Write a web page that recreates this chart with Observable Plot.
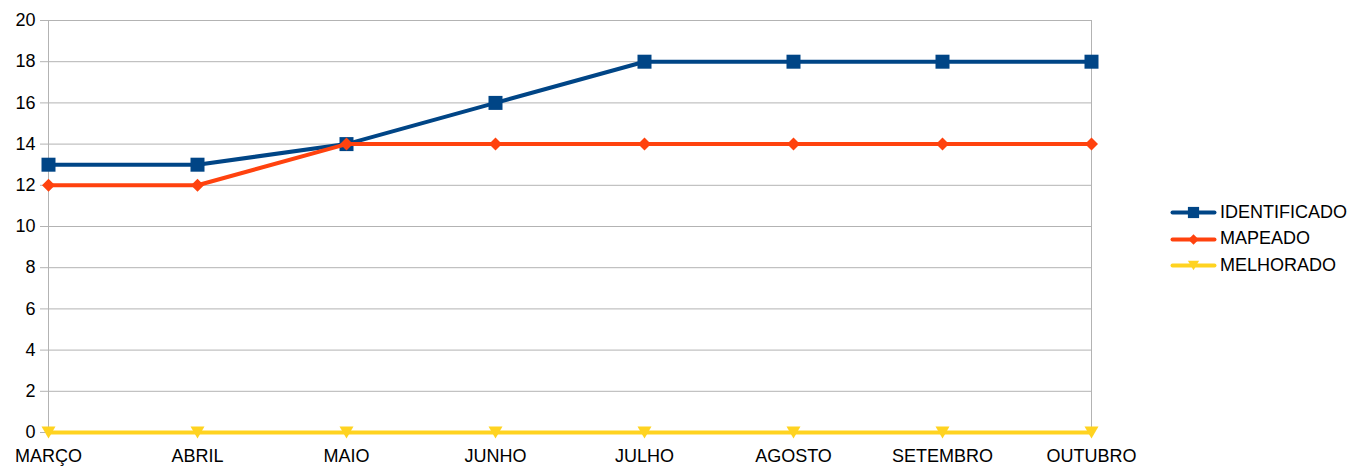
<!DOCTYPE html>
<html>
<head>
<meta charset="utf-8">
<script src="https://cdn.jsdelivr.net/npm/d3@7"></script>
<script src="https://cdn.jsdelivr.net/npm/@observablehq/plot@0.6"></script>
<style>
  html, body { margin: 0; padding: 0; background: #fff; }
  #wrap { position: relative; width: 1355px; height: 467px; font-family: "Liberation Sans", Arial, sans-serif; }
  #legend { position: absolute; left: 1172px; top: 199px; font-size: 18px; color: #000; }
  #legend .row { display: flex; align-items: center; height: 26.5px; }
  #legend svg { margin-right: 6px; }
</style>
</head>
<body>
<div id="wrap"></div>
<script>
const months = ["MARÇO","ABRIL","MAIO","JUNHO","JULHO","AGOSTO","SETEMBRO","OUTUBRO"];
const identificado = [13,13,14,16,18,18,18,18];
const mapeado = [12,12,14,14,14,14,14,14];
const melhorado = [0,0,0,0,0,0,0,0];
const seriesNames = ["IDENTIFICADO","MAPEADO","MELHORADO"];
const seriesColors = ["#004586","#ff420e","#ffd320"];
const yTicks = [0,2,4,6,8,10,12,14,16,18,20];

const squareSym = { draw(ctx, size) { const h = Math.sqrt(size) / 2; ctx.rect(-h, -h, 2*h, 2*h); } };
const diamondSym = { draw(ctx, size) { const h = Math.sqrt(size) / 2; ctx.moveTo(0,-h); ctx.lineTo(h,0); ctx.lineTo(0,h); ctx.lineTo(-h,0); ctx.closePath(); } };
const invTriSym = { draw(ctx, size) { const w = Math.sqrt(size) / 2; const h = w * 0.85; ctx.moveTo(-w,-h); ctx.lineTo(w,-h); ctx.lineTo(0,h); ctx.closePath(); } };
const symbols = [squareSym, diamondSym, invTriSym];
const radii = [14/Math.sqrt(Math.PI), 13/Math.sqrt(Math.PI), 14/Math.sqrt(Math.PI)];

const values = [identificado, mapeado, melhorado];
const tables = values.map(v => months.map((m, i) => ({month: m, value: v[i]})));

const marks = [
  Plot.ruleY(yTicks, {stroke: "#b3b3b3", strokeWidth: 1, strokeOpacity: 1}),
  Plot.ruleX([months[0], months[months.length - 1]], {stroke: "#b3b3b3", strokeWidth: 1, strokeOpacity: 1}),
  Plot.axisY({ticks: yTicks, tickSize: 7, tickPadding: 5, stroke: "#b3b3b3", fontSize: 18, fill: "#000", label: null}),
  Plot.axisX({tickSize: 0, tickPadding: 17, fontSize: 18, fill: "#000", label: null})
];
tables.forEach((t, k) => {
  marks.push(Plot.line(t, {x: "month", y: "value", stroke: seriesColors[k], strokeWidth: 4, curve: "linear"}));
  marks.push(Plot.dot(t, {x: "month", y: "value", fill: seriesColors[k], stroke: "none", symbol: symbols[k], r: radii[k]}));
});

const chart = Plot.plot({
  width: 1355,
  height: 467,
  marginLeft: 47,
  marginRight: 264,
  marginTop: 20,
  marginBottom: 35,
  style: {fontFamily: "'Liberation Sans', Arial, sans-serif", fontSize: "18px", background: "#fff", overflow: "visible"},
  x: {type: "point", domain: months, padding: 0},
  y: {domain: [0, 20]},
  marks
});
const wrap = document.getElementById("wrap");
wrap.appendChild(chart);

const legend = document.createElement("div");
legend.id = "legend";
seriesNames.forEach((name, k) => {
  const row = document.createElement("div");
  row.className = "row";
  const sw = Plot.plot({
    width: 42, height: 16, margin: 0,
    x: {domain: [0, 2], axis: null}, y: {domain: [0, 1], axis: null},
    style: {background: "transparent", overflow: "visible"},
    marks: [
      Plot.line([{x:0,y:0.5},{x:2,y:0.5}], {x: "x", y: "y", stroke: seriesColors[k], strokeWidth: 4}),
      Plot.dot([{x:1,y:0.5}], {x: "x", y: "y", fill: seriesColors[k], stroke: "none", symbol: symbols[k], r: radii[k] * 0.8})
    ]
  });
  row.appendChild(sw);
  const label = document.createElement("span");
  label.textContent = name;
  row.appendChild(label);
  legend.appendChild(row);
});
wrap.appendChild(legend);
</script>
</body>
</html>
